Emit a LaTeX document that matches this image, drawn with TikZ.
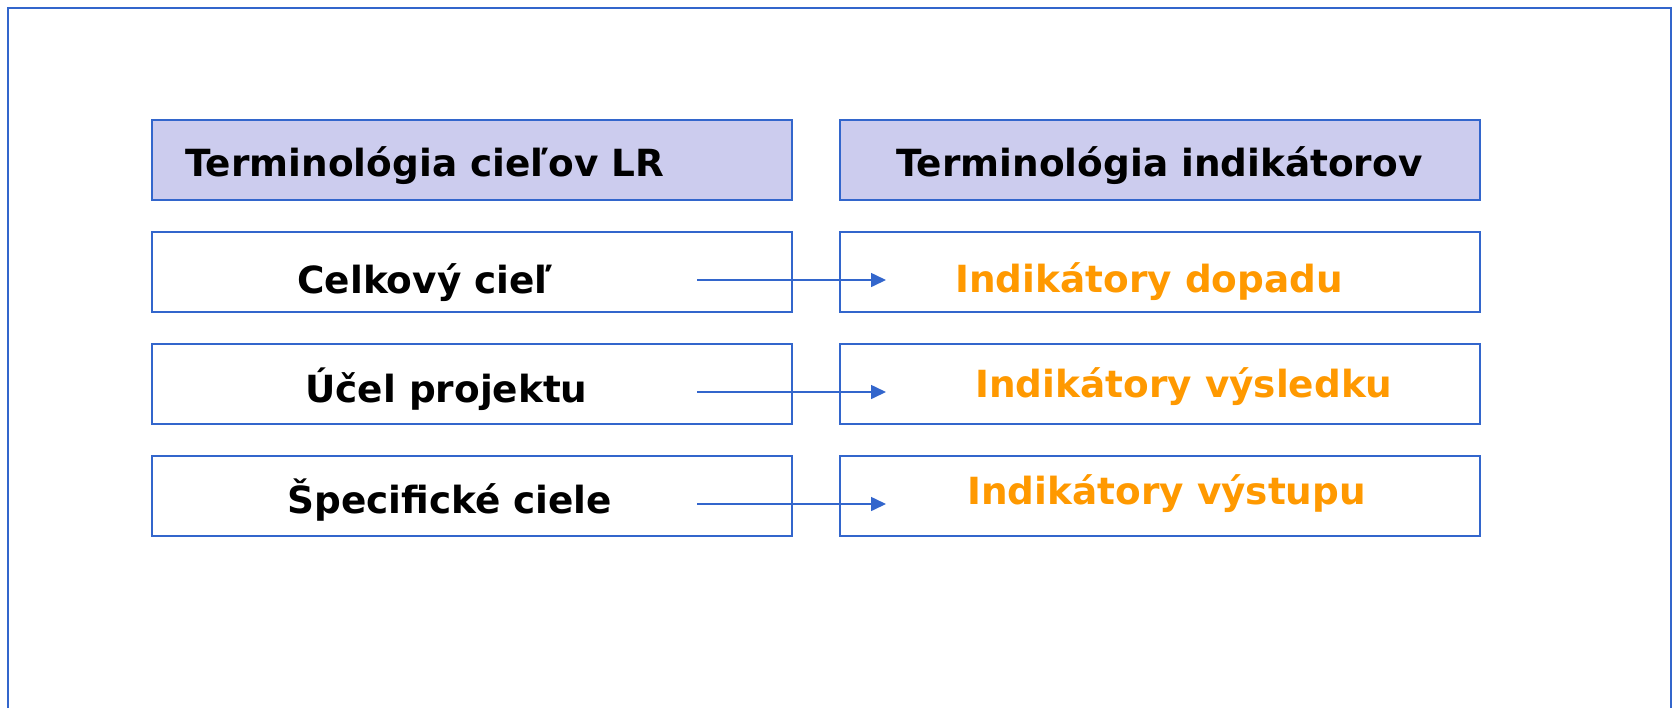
\documentclass[tikz,border=0pt]{standalone}
\usepackage{fontspec}
\setmainfont{DejaVu Sans}
\usetikzlibrary{arrows.meta}
\definecolor{frameblue}{RGB}{51,102,204}
\definecolor{headfill}{RGB}{204,204,238}
\definecolor{indorange}{RGB}{255,153,0}
\tikzset{
    box/.style={draw=frameblue, line width=1pt, minimum width=320pt, minimum height=40pt, inner sep=0pt},
    headbox/.style={box, fill=headfill},
    txt/.style={anchor=base west, inner sep=0pt, font=\fontsize{18.7}{22}\selectfont\bfseries},
    indtxt/.style={txt, text=indorange},
    arr/.style={draw=frameblue, line width=0.8pt, -{Triangle[length=7.5pt,width=7pt]}}
}
\begin{document}
\begin{tikzpicture}[x=0.5pt,y=-0.5pt]
        \useasboundingbox (0,0) rectangle (1672,708);
        \draw[frameblue, line width=1pt] (8,708) -- (8,8) -- (1671,8) -- (1671,708);

        % header row
        \node[headbox] (hl) at (472,160) {};
        \node[headbox] (hr) at (1160,160) {};
        \node[txt] (thl) at (185,176) {Terminológia cieľov LR};
        \node[txt] (thr) at (896,176) {Terminológia indikátorov};

        % goals
        \node[box] (cel) at (472,272) {};
        \node[box] (ucel) at (472,384) {};
        \node[box] (spec) at (472,496) {};
        \node[txt] (tcel) at (297,293) {Celkový cieľ};
        \node[txt] (tucel) at (305,402) {Účel projektu};
        \node[txt] (tspec) at (287,513) {Špecifické ciele};

        % indicators
        \node[box] (dop) at (1160,272) {};
        \node[box] (vysl) at (1160,384) {};
        \node[box] (vyst) at (1160,496) {};
        \node[indtxt] (tdop) at (955,292) {Indikátory dopadu};
        \node[indtxt] (tvysl) at (975,397) {Indikátory výsledku};
        \node[indtxt] (tvyst) at (967,504) {Indikátory výstupu};

        \foreach \a/\b in {cel/dop, ucel/vysl, spec/vyst}
            \draw[arr] ([shift={(-48pt,-4pt)}]\a.east) -- ([shift={(23.5pt,-4pt)}]\b.west);

    \end{tikzpicture}
\end{document}
